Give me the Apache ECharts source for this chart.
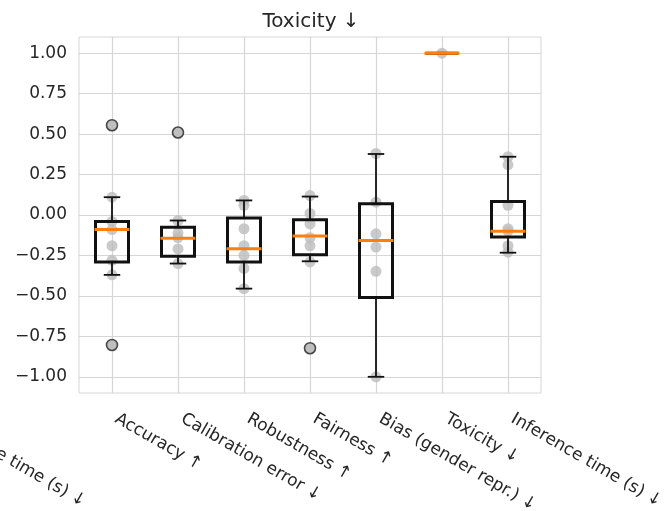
<!DOCTYPE html>
<html>
<head>
<meta charset="utf-8">
<script src="https://cdn.jsdelivr.net/npm/echarts@6/dist/echarts.min.js"></script>
<style>
  html, body { margin: 0; padding: 0; background: #fff; }
  #chart { width: 669px; height: 511px; }
</style>
</head>
<body>
<div id="chart"></div>
<script>
// categories on the x axis
const categories = ['Accuracy ↑', 'Calibration error ↓', 'Robustness ↑', 'Fairness ↑',
  'Bias (gender repr.) ↓', 'Toxicity ↓', 'Inference time (s) ↓']

// box stats per category: [low whisker, Q1, median, Q3, high whisker]
const boxStats = [
  [-0.37, -0.29, -0.09, -0.04, 0.11],
  [-0.30, -0.255, -0.143, -0.075, -0.034],
  [-0.455, -0.29, -0.208, -0.018, 0.09],
  [-0.286, -0.245, -0.13, -0.03, 0.114],
  [-1.0, -0.51, -0.157, 0.069, 0.377],
  [1.0, 1.0, 1.0, 1.0, 1.0],
  [-0.233, -0.136, -0.10, 0.083, 0.36]
]

// fliers: [category index, value]
const outliers = [[0, 0.555], [0, -0.803], [1, 0.51], [3, -0.823]]

// raw values (grey dots) per category
const points = [
  [0.555, 0.11, -0.04, -0.09, -0.19, -0.28, -0.37, -0.803],
  [0.51, -0.034, -0.11, -0.14, -0.21, -0.30],
  [0.09, 0.06, -0.085, -0.19, -0.25, -0.33, -0.455],
  [0.12, 0.01, -0.055, -0.14, -0.19, -0.29, -0.823],
  [0.38, 0.079, -0.116, -0.198, -0.348, -1.0],
  [1.0],
  [0.36, 0.31, 0.06, -0.085, -0.10, -0.19, -0.23]
]

// y tick labels
const yTicks = [-1, -0.75, -0.5, -0.25, 0, 0.25, 0.5, 0.75, 1]

const font = 'DejaVu Sans'
const textColor = '#262626'
const gridColor = '#d6d6d6'

const chart = echarts.init(document.getElementById('chart'))

const dotData = []
points.forEach((vals, i) => {
  vals.forEach(v => dotData.push([i, v]))
})

const boxData = boxStats.map((s, i) => [i].concat(s))

// box, whiskers, half-width caps, then the median on top
function renderBox (params, api) {
  const x = api.value(0)
  const band = api.size([1, 0])[0]
  const bw = band * 0.5
  const cw = band * 0.25
  const lo = api.coord([x, api.value(1)])
  const q1 = api.coord([x, api.value(2)])
  const md = api.coord([x, api.value(3)])
  const q3 = api.coord([x, api.value(4)])
  const hi = api.coord([x, api.value(5)])
  const cx = lo[0]
  const thin = { stroke: '#111', lineWidth: 1.8 }
  return {
    type: 'group',
    children: [
      { type: 'line', shape: { x1: cx, y1: q1[1], x2: cx, y2: lo[1] }, style: thin },
      { type: 'line', shape: { x1: cx, y1: q3[1], x2: cx, y2: hi[1] }, style: thin },
      { type: 'line', shape: { x1: cx - cw / 2, y1: lo[1], x2: cx + cw / 2, y2: lo[1] }, style: thin },
      { type: 'line', shape: { x1: cx - cw / 2, y1: hi[1], x2: cx + cw / 2, y2: hi[1] }, style: thin },
      {
        type: 'rect',
        shape: { x: cx - bw / 2, y: q3[1], width: bw, height: q1[1] - q3[1] },
        style: { fill: 'none', stroke: '#111', lineWidth: 3 }
      },
      {
        type: 'line',
        shape: { x1: cx - bw / 2 - 1, y1: md[1], x2: cx + bw / 2 + 1, y2: md[1] },
        style: { stroke: '#ff7f0e', lineWidth: 3 }
      }
    ]
  }
}

const option = {
  backgroundColor: '#fff',
  animation: false,
  title: {
    text: 'Toxicity ↓',
    left: 306,
    top: 7,
    textAlign: 'center',
    textStyle: { fontFamily: font, fontSize: 20, fontWeight: 'normal', color: textColor }
  },
  grid: {
    left: 79,
    right: 128,
    top: 37,
    bottom: 118,
    outerBoundsMode: 'none',
    containLabel: false,
    show: true,
    borderColor: gridColor,
    borderWidth: 1
  },
  xAxis: {
    type: 'category',
    data: categories,
    boundaryGap: true,
    axisLine: { show: false },
    axisTick: { show: false, alignWithLabel: true },
    splitLine: { show: true, alignWithLabel: true, lineStyle: { color: gridColor, width: 1.2 } },
    axisLabel: {
      interval: 0,
      rotate: -30,
      margin: 32,
      verticalAlign: 'bottom',
      fontFamily: font,
      fontSize: 17,
      color: textColor
    }
  },
  yAxis: {
    type: 'value',
    min: -1.1,
    max: 1.1,
    axisLine: { show: false },
    axisTick: { show: false, customValues: yTicks },
    splitLine: { show: true, lineStyle: { color: gridColor, width: 1.2 } },
    axisLabel: {
      customValues: yTicks,
      margin: 12,
      fontFamily: font,
      fontSize: 17,
      color: textColor,
      formatter: v => v.toFixed(2).replace('-', '\u2212')
    }
  },
  graphic: [{
    // last tick label of the neighbouring subplot, cut by the left edge
    type: 'text',
    x: -68,
    y: 425,
    rotation: -Math.PI / 6,
    style: {
      text: 'Inference time (s) ↓',
      font: '17px "DejaVu Sans"',
      fill: textColor,
      textAlign: 'left',
      textVerticalAlign: 'bottom'
    }
  }],
  series: [
    {
      name: 'values',
      type: 'scatter',
      data: dotData,
      symbolSize: 11,
      itemStyle: { color: '#bdbdbd' },
      z: 2
    },
    {
      name: 'box',
      type: 'custom',
      renderItem: renderBox,
      data: boxData,
      encode: { x: 0, y: [1, 2, 3, 4, 5] },
      z: 3
    },
    {
      name: 'outliers',
      type: 'scatter',
      data: outliers,
      symbolSize: 11,
      itemStyle: { color: '#bdbdbd', borderColor: '#222', borderWidth: 1.6 },
      z: 4
    }
  ]
}

chart.setOption(option)
</script>
</body>
</html>
